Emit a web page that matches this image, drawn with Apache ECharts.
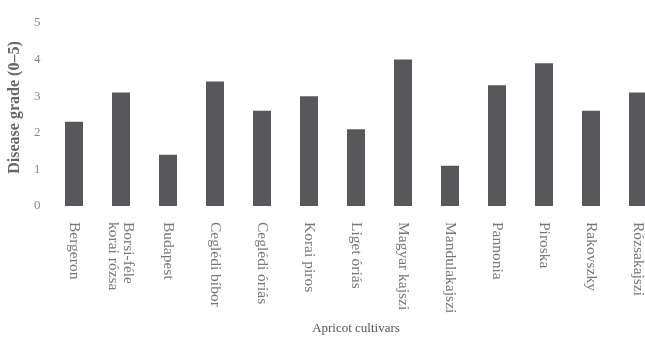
<!DOCTYPE html>
<html>
<head>
<meta charset="utf-8">
<script src="https://cdn.jsdelivr.net/npm/echarts@6/dist/echarts.min.js"></script>
<style>html,body{margin:0;padding:0;background:#fff}#c{width:645px;height:339px}</style>
</head>
<body>
<div id="c"></div>
<script>
const categories = ["Bergeron","Borsi-féle\nkorai rózsa","Budapest","Ceglédi bíbor","Ceglédi óriás","Korai piros","Liget óriás","Magyar kajszi","Mandulakajszi","Pannonia","Piroska","Rakovszky","Rózsakajszi"];
const diseaseGrade = [2.3, 3.1, 1.4, 3.4, 2.6, 3.0, 2.1, 4.0, 1.1, 3.3, 3.9, 2.6, 3.1];
const yTicks = [0, 1, 2, 3, 4, 5];

const chart = echarts.init(document.getElementById('c'), null, {renderer: 'canvas'});
chart.setOption({
  animation: false,
  backgroundColor: '#fff',
  grid: {left: 50.5, width: 611, top: 23, height: 183, outerBoundsMode: 'none', containLabel: false},
  xAxis: {
    type: 'category',
    data: categories,
    name: 'Apricot cultivars',
    nameLocation: 'middle',
    nameGap: 116,
    nameTextStyle: {fontFamily: 'Liberation Serif', fontSize: 13, color: '#555'},
    axisLine: {show: false},
    axisTick: {show: false},
    axisLabel: {rotate: -90, margin: 16, fontFamily: 'Liberation Serif', fontSize: 15.5, color: '#777', lineHeight: 15, interval: 0}
  },
  yAxis: {
    type: 'value',
    min: yTicks[0],
    max: yTicks[yTicks.length - 1],
    interval: 1,
    name: 'Disease grade (0–5)',
    nameLocation: 'middle',
    nameGap: 22,
    nameTextStyle: {fontFamily: 'Liberation Serif', fontWeight: 'bold', fontSize: 16, color: '#666', padding: [0, 0, 0, 14]},
    axisLine: {show: false},
    axisTick: {show: false},
    splitLine: {show: false},
    axisLabel: {margin: 10, fontFamily: 'Liberation Serif', fontSize: 13, color: '#888'}
  },
  series: [{
    type: 'bar',
    data: diseaseGrade,
    barWidth: 18,
    itemStyle: {color: '#58585a'}
  }]
});
</script>
</body>
</html>
